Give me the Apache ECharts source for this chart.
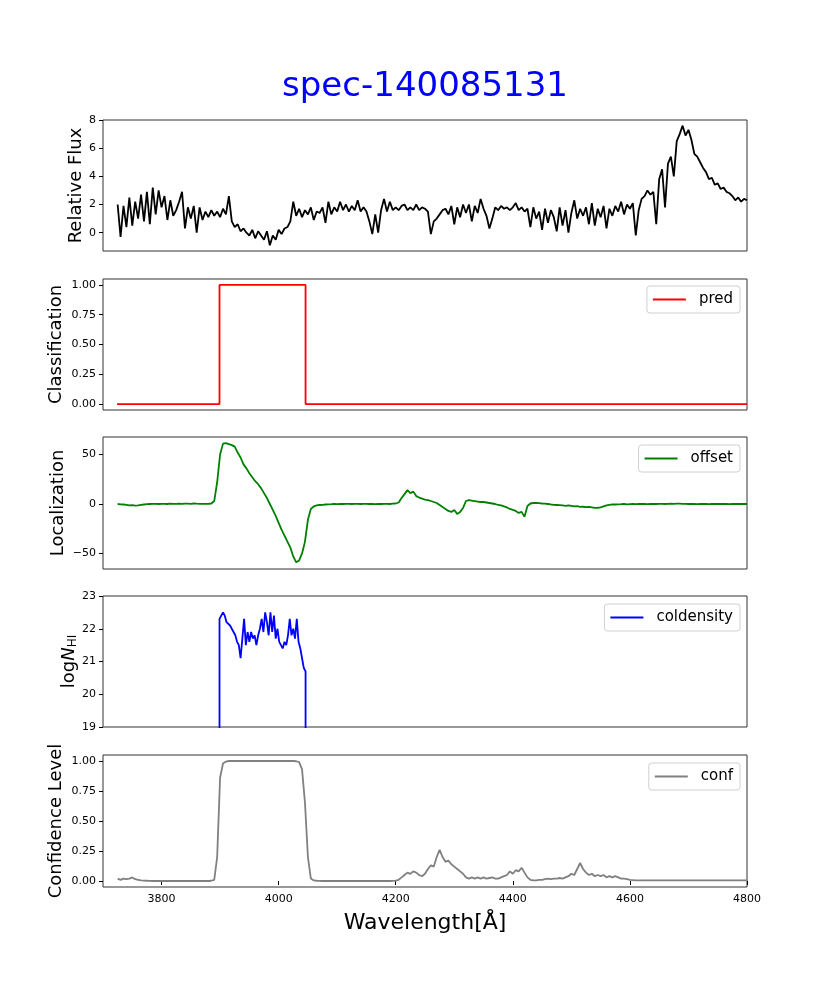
<!DOCTYPE html>
<html lang="en">
<head>
    <meta charset="UTF-8"/>
    <title>spec-140085131</title>
    <!-- ECharts -->
    <script src="https://cdn.jsdelivr.net/npm/echarts@6.0.0/dist/echarts.min.js"></script>
    <style>
        html, body { margin: 0; padding: 0; background: #fff; }
        #main { width: 830px; height: 997px; }
    </style>
</head>
<body>
<div id="main"></div>
<script type="text/javascript">
    // ---- data ----
    var titleText = 'spec-140085131';
    var waveStart = 3725, waveStep = 5;   // shared grid for flux / offset / conf

    var flux = [
        2.0, -0.3, 1.9, 0.4, 2.5, 0.5, 2.2, 1.0, 2.7, 0.8,
        2.9, 0.6, 3.2, 1.3, 3.0, 1.8, 2.6, 0.9, 2.3, 1.2,
        1.6, 2.2, 2.9, 0.3, 1.8, 1.0, 1.9, 0.0, 1.8, 0.9,
        1.5, 1.1, 1.6, 1.2, 1.5, 1.1, 1.7, 1.3, 2.6, 0.8,
        0.4, 0.6, 0.1, 0.3, 0.0, -0.2, 0.2, -0.4, 0.1, -0.2,
        -0.5, 0.1, -0.9, -0.2, -0.5, 0.2, -0.1, 0.3, 0.4, 0.8,
        2.2, 1.2, 1.7, 1.1, 1.6, 1.3, 1.8, 0.9, 1.5, 1.4,
        1.8, 0.7, 2.2, 1.3, 1.8, 1.5, 2.2, 1.6, 2.0, 1.5,
        1.9, 1.6, 2.3, 1.5, 1.8, 1.5, 0.8, -0.1, 1.3, 0.0,
        1.6, 2.4, 1.5, 2.2, 1.6, 1.8, 1.6, 1.9, 2.0, 1.6,
        1.8, 1.6, 2.0, 1.6, 1.8, 1.7, 1.5, -0.1, 0.8, 1.0,
        1.3, 1.6, 1.7, 1.3, 1.9, 0.6, 1.8, 1.1, 2.0, 1.4,
        2.0, 0.8, 1.9, 1.4, 2.4, 1.7, 1.2, 0.3, 1.0, 1.8,
        1.6, 1.9, 1.7, 1.8, 1.6, 1.8, 2.1, 1.6, 1.8, 1.5,
        1.7, 0.4, 1.8, 1.0, 1.5, 0.2, 1.7, 0.7, 1.6, 1.1,
        0.1, 1.8, 0.5, 1.6, 0.0, 1.4, 2.3, 1.0, 1.7, 1.2,
        1.8, 0.6, 2.1, 0.5, 1.7, 1.1, 1.9, 0.3, 1.7, 1.2,
        1.9, 1.5, 2.2, 1.3, 2.0, 1.7, 2.1, -0.2, 1.6, 2.4,
        2.6, 3.0, 2.7, 2.9, 0.6, 3.8, 4.5, 1.8, 4.9, 5.4,
        4.0, 6.5, 7.0, 7.6, 6.9, 7.3, 6.6, 5.6, 5.4, 5.0,
        4.6, 4.3, 3.8, 3.9, 3.4, 3.5, 3.1, 3.2, 2.9, 2.8,
        2.6, 2.3, 2.5, 2.2, 2.4, 2.3
    ];

    var offset = [
        0.0, -0.3, -0.5, -1.0, -1.5, -1.2, -1.6, -1.3, -0.8, -0.5,
        -0.2, 0.0, 0.2, 0.1, 0.0, 0.2, 0.1, 0.0, 0.3, 0.2,
        0.1, 0.3, 0.2, 0.4, 0.3, 0.2, 0.5, 0.3, 0.2, 0.1,
        0.1, 0.2, 0.5, 3.0, 22.0, 50.0, 61.0, 61.5, 60.5, 59.5,
        58, 52, 47, 40, 36, 31, 27, 23, 20, 16,
        11, 6, 0, -6, -12, -19, -26, -32, -38, -44,
        -53, -59, -57, -50, -38, -16, -5, -2.5, -1.5, -1.0,
        -0.8, -0.5, -0.3, -0.2, 0.0, -0.1, 0.1, 0.0, 0.2, 0.1,
        0.0, 0.2, 0.1, 0.0, 0.2, 0.1, 0.0, 0.1, -0.1, 0.1,
        0.0, 0.1, 0.2, 0.0, 0.3, 0.5, 1.5, 6.0, 10.0, 14.0,
        11.0, 12.5, 8.0, 6.5, 5.5, 4.5, 4.0, 3.0, 2.0, 1.0,
        -1.0, -3.0, -5.0, -7.0, -8.0, -6.0, -10.0, -8.0, -4.0, 3.0,
        4.0, 3.5, 3.0, 2.5, 2.0, 2.0, 1.5, 1.0, 0.5, 0.0,
        -1.0, -1.5, -2.5, -3.5, -5.0, -6.0, -7.0, -9.0, -8.0, -13.0,
        -2.0, 0.5, 1.0, 1.0, 0.8, 0.5, 0.3, 0.0, -0.5, -0.8,
        -1.0, -1.2, -1.5, -1.8, -1.5, -2.0, -2.5, -2.2, -3.0, -2.8,
        -3.2, -3.0, -3.5, -4.0, -3.8, -3.5, -2.5, -1.5, -1.0, -0.5,
        -0.5, -0.3, -0.2, 0.0, -0.3, -0.1, 0.0, -0.2, 0.0, 0.1,
        0.0, -0.2, 0.0, 0.1, 0.0, 0.2, 0.1, 0.0, 0.2, 0.3,
        0.2, 0.4, 0.3, 0.2, 0.1, 0.0, 0.1, 0.0, -0.1, 0.0,
        0.1, 0.0, -0.1, 0.0, 0.1, 0.0, 0.0, 0.1, 0.0, -0.1,
        0.0, 0.1, 0.0, 0.0, 0.1, 0.0
    ];

    var conf = [
        0.02, 0.01, 0.02, 0.015, 0.02, 0.03, 0.015, 0.01, 0.005, 0.003,
        0.002, 0.001, 0, 0, 0, 0, 0, 0, 0, 0,
        0, 0, 0, 0, 0, 0, 0, 0, 0, 0,
        0, 0, 0.002, 0.01, 0.2, 0.86, 0.98, 0.995, 1.0, 1.0,
        1.0, 1.0, 1.0, 1.0, 1.0, 1.0, 1.0, 1.0, 1.0, 1.0,
        1.0, 1.0, 1.0, 1.0, 1.0, 1.0, 1.0, 1.0, 1.0, 1.0,
        1.0, 0.998, 0.99, 0.93, 0.65, 0.2, 0.02, 0.005, 0.002, 0.001,
        0, 0, 0, 0, 0, 0, 0, 0, 0, 0,
        0, 0, 0, 0, 0, 0, 0, 0, 0, 0,
        0, 0, 0, 0, 0.001, 0.003, 0.01, 0.03, 0.05, 0.07,
        0.06, 0.08, 0.07, 0.05, 0.04, 0.06, 0.1, 0.13, 0.12, 0.2,
        0.26, 0.2, 0.16, 0.17, 0.14, 0.12, 0.1, 0.08, 0.06, 0.03,
        0.02, 0.03, 0.02, 0.03, 0.02, 0.03, 0.02, 0.025, 0.03, 0.02,
        0.02, 0.03, 0.04, 0.05, 0.08, 0.06, 0.09, 0.08, 0.11, 0.07,
        0.03, 0.01, 0.005, 0.005, 0.01, 0.01, 0.015, 0.02, 0.015, 0.02,
        0.02, 0.025, 0.02, 0.03, 0.04, 0.06, 0.05, 0.1, 0.15, 0.1,
        0.07, 0.05, 0.06, 0.04, 0.05, 0.04, 0.05, 0.03, 0.04, 0.03,
        0.04, 0.03, 0.02, 0.02, 0.015, 0.01, 0.008, 0.006, 0.005, 0.005,
        0.005, 0.005, 0.005, 0.005, 0.005, 0.005, 0.005, 0.005, 0.005, 0.005,
        0.005, 0.005, 0.005, 0.005, 0.005, 0.005, 0.005, 0.005, 0.005, 0.005,
        0.005, 0.005, 0.005, 0.005, 0.005, 0.005, 0.005, 0.005, 0.005, 0.005,
        0.005, 0.005, 0.005, 0.005, 0.005, 0.005
    ];

    // classification step function
    var predWave = [3724, 3899, 3899, 4046, 4046, 4800];
    var predVals = [0, 0, 1, 1, 0, 0];

    // column density only inside the absorber, dropping to the floor at both edges
    var colStart = 3899, colStep = 3, colFloor = 0;
    var coldensity = [
        22.3, 22.4, 22.5, 22.4, 22.2, 22.2, 22.1, 22.1, 21.9, 21.8,
        21.6, 21.5, 21.1, 21.7, 22.3, 21.5, 21.9, 21.6, 21.9, 21.7,
        21.8, 21.5, 21.8, 22.0, 22.3, 21.9, 22.5, 22.2, 21.8, 22.5,
        21.9, 22.4, 21.7, 22.0, 21.6, 21.5, 21.4, 21.6, 21.5, 21.8,
        22.3, 21.8, 22.0, 21.7, 22.3, 21.6, 21.4, 21.1, 20.8, 20.7
    ];

    var xTicks = [3800, 4000, 4200, 4400, 4600, 4800];
    var fluxTicks = [0, 2, 4, 6, 8];
    var fracTicks = [0, 0.25, 0.5, 0.75, 1];
    var offsetTicks = [-50, 0, 50];
    var colTicks = [19, 20, 21, 22, 23];

    function pairs(start, step, vals) {
        var out = [];
        for (var i = 0; i < vals.length; i++) {
            out.push([start + i * step, vals[i]]);
        }
        return out;
    }
    function zip(xs, ys) {
        var out = [];
        for (var i = 0; i < xs.length; i++) out.push([xs[i], ys[i]]);
        return out;
    }

    var colData = pairs(colStart, colStep, coldensity);
    colData.unshift([colStart, colFloor]);
    colData.push([colStart + (coldensity.length - 1) * colStep, colFloor]);

    // ---- layout ----
    var FONT = 'DejaVu Sans';
    var grids = [
        {top: 120, height: 131},
        {top: 279, height: 131},
        {top: 437, height: 132},
        {top: 596, height: 131},
        {top: 755, height: 132}
    ];

    function plain(v) { return String(v); }
    function fix2(v) { return v.toFixed(2); }
    function minus(v) { return String(v).replace('-', '\u2212'); }

    function xAxisFor(i) {
        var last = (i === 4);
        return {
            type: 'value', gridIndex: i, min: 3700, max: 4800,
            axisLine: {show: false},
            splitLine: {show: false},
            axisTick: {show: last, length: 4, customValues: xTicks, lineStyle: {color: '#000'}},
            axisLabel: {show: last, customValues: xTicks, fontSize: 11, color: '#000', fontFamily: FONT,
                        margin: 7, formatter: plain},
            name: last ? 'Wavelength[\u00c5]' : '',
            nameLocation: 'middle', nameGap: 25,
            nameTextStyle: {fontSize: 22, color: '#000', fontFamily: FONT}
        };
    }

    function yAxisFor(i, min, max, ticks, fmt, name, gap) {
        return {
            type: 'value', gridIndex: i, min: min, max: max,
            axisLine: {show: false},
            splitLine: {show: false},
            axisTick: {show: true, length: 4, customValues: ticks, lineStyle: {color: '#000'}},
            axisLabel: {customValues: ticks, fontSize: 11, color: '#000', fontFamily: FONT, margin: 7,
                        formatter: fmt || plain},
            name: name, nameLocation: 'middle', nameGap: gap, nameMoveOverlap: false,
            nameTextStyle: {
                fontSize: 18, color: '#000', fontFamily: FONT,
                rich: {
                    a: {fontSize: 18, color: '#000', fontFamily: FONT, verticalAlign: 'top'},
                    b: {fontSize: 18, color: '#000', fontFamily: FONT, fontStyle: 'italic', verticalAlign: 'top'},
                    c: {fontSize: 12, color: '#000', fontFamily: FONT, verticalAlign: 'bottom', padding: [7, 0, 0, 0]}
                }
            }
        };
    }

    function legendFor(name, top) {
        return {
            data: [name], right: 90, top: top, orient: 'horizontal',
            icon: 'rect', itemWidth: 33, itemHeight: 2,
            backgroundColor: '#fff', borderColor: '#d0d0d0', borderWidth: 1, borderRadius: 3,
            padding: [6, 7, 6, 6],
            selectedMode: false,
            textStyle: {fontSize: 15, color: '#000', fontFamily: FONT, padding: [0, 0, 0, 8]}
        };
    }

    function lineSeries(name, i, data, color) {
        return {
            name: name, type: 'line', xAxisIndex: i, yAxisIndex: i,
            data: data, showSymbol: false, symbol: 'none', clip: true,
            lineStyle: {color: color, width: 1.8}, itemStyle: {color: color}
        };
    }

    var myChart = echarts.init(document.getElementById('main'));
    var option = {
        animation: false,
        backgroundColor: '#fff',
        graphic: [{
            type: 'text', x: 425, y: 87,
            style: {text: titleText, fill: '#0000ff', fontSize: 34, fontFamily: FONT,
                    align: 'center', verticalAlign: 'middle'}
        }],
        grid: grids.map(function (g) {
            return {left: 103, right: 83, top: g.top, height: g.height,
                    show: true, borderColor: '#333', borderWidth: 1, backgroundColor: 'transparent'};
        }),
        legend: [
            legendFor('pred', 286),
            legendFor('offset', 445),
            legendFor('coldensity', 604),
            legendFor('conf', 763)
        ],
        xAxis: [0, 1, 2, 3, 4].map(xAxisFor),
        yAxis: [
            yAxisFor(0, -1.3, 8, fluxTicks, null, 'Relative Flux', 18),
            yAxisFor(1, -0.05, 1.05, fracTicks, fix2, 'Classification', 38),
            yAxisFor(2, -65.7, 67.7, offsetTicks, minus, 'Localization', 36),
            yAxisFor(3, 19, 23, colTicks, null, '{a|log}{b|N}{c|HI}', 24),
            yAxisFor(4, -0.05, 1.05, fracTicks, fix2, 'Confidence Level', 38)
        ],
        series: [
            lineSeries('flux', 0, pairs(waveStart, waveStep, flux), '#000000'),
            lineSeries('pred', 1, zip(predWave, predVals), '#ff0000'),
            lineSeries('offset', 2, pairs(waveStart, waveStep, offset), '#008000'),
            lineSeries('coldensity', 3, colData, '#0000ff'),
            lineSeries('conf', 4, pairs(waveStart, waveStep, conf), '#808080')
        ]
    };
    myChart.setOption(option);
</script>
</body>
</html>
